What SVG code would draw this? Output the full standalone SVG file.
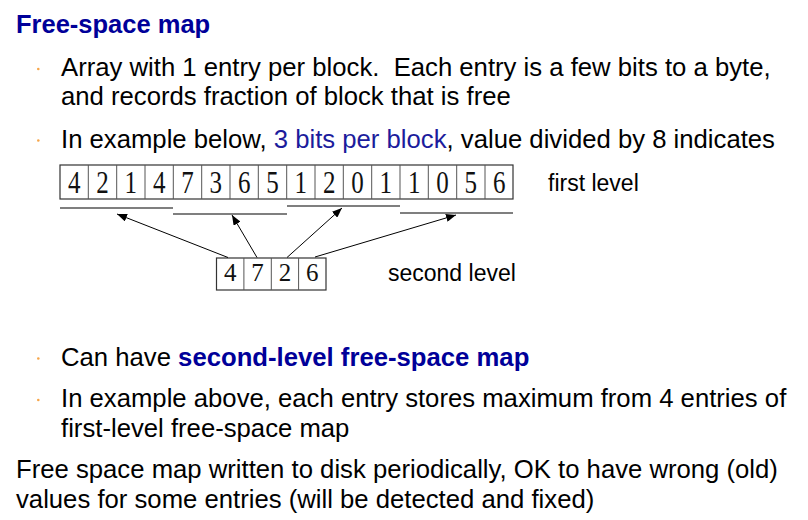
<svg xmlns="http://www.w3.org/2000/svg" width="808" height="520" viewBox="0 0 808 520">
<defs>
<style>
.t{font-family:"Liberation Sans",Arial,sans-serif;font-size:25.7px;fill:#000;white-space:pre}
.h{font-family:"Liberation Sans",Arial,sans-serif;font-weight:bold;fill:#000099}
.d{font-family:"Liberation Serif","Times New Roman",serif;font-size:25px;fill:#111;text-anchor:middle}
.lbl{font-family:"Liberation Sans",Arial,sans-serif;font-size:23px;fill:#000}
.box{fill:#fff;stroke:#333;stroke-width:1.2}
.sep{stroke:#555;stroke-width:1}
.ul{stroke:#000;stroke-width:1.2}
.arr{stroke:#000;stroke-width:1;fill:none;marker-end:url(#ah)}
.b{fill:#f7a64a}
</style>
<marker id="ah" markerWidth="11" markerHeight="8" refX="10" refY="4" orient="auto" markerUnits="userSpaceOnUse">
<path d="M0,0 L10,4 L0,8 Z" fill="#000"/>
</marker>
</defs>
<rect width="808" height="520" fill="#fff"/>
<g id="text">
<text class="h" x="16" y="33" style="font-size:25.5px">Free-space map</text>
<circle class="b" cx="38.3" cy="69" r="1.3"/>
<text class="t" x="61" y="76" xml:space="preserve">Array with 1 entry per block.  Each entry is a few bits to a byte,</text>
<text class="t" x="61" y="105">and records fraction of block that is free</text>
<circle class="b" cx="38.3" cy="140.5" r="1.3"/>
<text class="t" x="61" y="148">In example below, <tspan fill="#1c1c9c">3 bits per block</tspan>, value divided by 8 indicates</text>
<circle class="b" cx="38.3" cy="358.5" r="1.3"/>
<text class="t" x="61" y="366">Can have <tspan style="font-weight:bold;fill:#000099">second-level free-space map</tspan></text>
<circle class="b" cx="38.3" cy="400" r="1.3"/>
<text class="t" x="61" y="407">In example above, each entry stores maximum from 4 entries of</text>
<text class="t" x="61" y="437">first-level free-space map</text>
<text class="t" x="16" y="478">Free space map written to disk periodically, OK to have wrong (old)</text>
<text class="t" x="16" y="508">values for some entries (will be detected and fixed)</text>
</g>
<g id="first-level">
<rect class="box" x="60" y="165" width="453" height="34"/>
<g class="sep">
<line x1="88.3" y1="165" x2="88.3" y2="199"/><line x1="116.7" y1="165" x2="116.7" y2="199"/>
<line x1="145" y1="165" x2="145" y2="199"/><line x1="173.3" y1="165" x2="173.3" y2="199"/>
<line x1="201.7" y1="165" x2="201.7" y2="199"/><line x1="230" y1="165" x2="230" y2="199"/>
<line x1="258.3" y1="165" x2="258.3" y2="199"/><line x1="286.7" y1="165" x2="286.7" y2="199"/>
<line x1="315" y1="165" x2="315" y2="199"/><line x1="343.3" y1="165" x2="343.3" y2="199"/>
<line x1="371.7" y1="165" x2="371.7" y2="199"/><line x1="400" y1="165" x2="400" y2="199"/>
<line x1="428.3" y1="165" x2="428.3" y2="199"/><line x1="456.7" y1="165" x2="456.7" y2="199"/>
<line x1="485" y1="165" x2="485" y2="199"/>
</g>
<g transform="translate(0,193) scale(1,1.28)">
<text class="d" x="74.2" y="0">4</text><text class="d" x="102.5" y="0">2</text>
<text class="d" x="130.8" y="0">1</text><text class="d" x="159.2" y="0">4</text>
<text class="d" x="187.5" y="0">7</text><text class="d" x="215.8" y="0">3</text>
<text class="d" x="244.2" y="0">6</text><text class="d" x="272.5" y="0">5</text>
<text class="d" x="300.8" y="0">1</text><text class="d" x="329.2" y="0">2</text>
<text class="d" x="357.5" y="0">0</text><text class="d" x="385.8" y="0">1</text>
<text class="d" x="414.2" y="0">1</text><text class="d" x="442.5" y="0">0</text>
<text class="d" x="470.8" y="0">5</text><text class="d" x="499.2" y="0">6</text>
</g>
<text class="lbl" x="548" y="191">first level</text>
</g>
<g id="underlines">
<line class="ul" x1="60" y1="208" x2="173" y2="208"/>
<line class="ul" x1="173" y1="214" x2="287" y2="214"/>
<line class="ul" x1="287" y1="206" x2="400" y2="206"/>
<line class="ul" x1="400" y1="213" x2="513" y2="213"/>
</g>
<g id="second-level">
<rect class="box" x="216.5" y="258" width="109.5" height="32"/>
<g class="sep">
<line x1="243.9" y1="258" x2="243.9" y2="290"/>
<line x1="271.3" y1="258" x2="271.3" y2="290"/>
<line x1="298.6" y1="258" x2="298.6" y2="290"/>
</g>
<text class="d" x="230.2" y="281" style="font-size:25px">4</text>
<text class="d" x="257.6" y="281" style="font-size:25px">7</text>
<text class="d" x="285" y="281" style="font-size:25px">2</text>
<text class="d" x="312.3" y="281" style="font-size:25px">6</text>
<text class="lbl" x="388" y="281">second level</text>
</g>
<g id="connectors">
<line class="arr" x1="228" y1="257.5" x2="117" y2="214"/>
<line class="arr" x1="257" y1="257.5" x2="232" y2="215"/>
<line class="arr" x1="287" y1="257.5" x2="342" y2="208"/>
<line class="arr" x1="315" y1="257" x2="456" y2="215"/>
</g>
</svg>
